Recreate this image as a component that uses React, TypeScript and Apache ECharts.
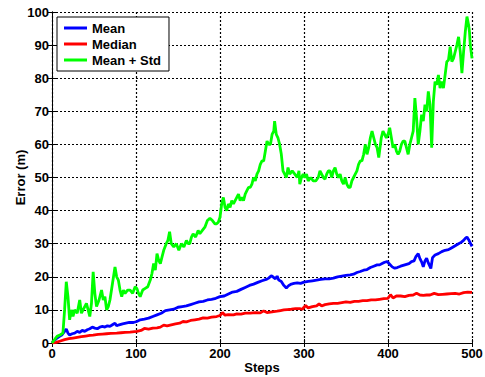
import React, { useEffect, useRef } from "react";
import * as echarts from "echarts";

const xTicks = [0, 100, 200, 300, 400, 500];
const yTicks = [0, 10, 20, 30, 40, 50, 60, 70, 80, 90, 100];

const seriesNames = ["Mean", "Median", "Mean + Std"];
const seriesColors = ["#0000ff", "#ff0000", "#00ff00"];

const meanSteps = [0, 3, 6, 9, 12, 15, 17, 19, 21, 24, 27, 30, 33, 36, 39, 42, 45, 48, 51, 54, 57, 60, 63, 66, 69, 72, 75, 77, 80, 84, 88, 92, 97, 101, 105, 110, 115, 120, 125, 130, 135, 140, 145, 150, 155, 160, 165, 170, 175, 180, 185, 190, 195, 200, 205, 210, 215, 220, 225, 230, 235, 240, 245, 250, 255, 258, 261, 263, 266, 268, 270, 273, 276, 279, 282, 285, 288, 292, 296, 300, 305, 310, 315, 320, 325, 330, 335, 340, 345, 350, 355, 359, 363, 367, 371, 375, 379, 383, 387, 390, 393, 396, 399, 402, 405, 408, 411, 415, 420, 425, 428, 431, 433, 436, 438, 440, 442, 444, 446, 448, 451, 453, 456, 460, 464, 468, 472, 476, 480, 484, 487, 490, 492, 494, 496, 498, 500];
const meanValues = [0, 0.8, 1.5, 2, 2.5, 3.5, 4.2, 3, 2.4, 2.8, 3, 3.5, 3.2, 3.8, 3.5, 4, 4.3, 4.8, 4.5, 4.3, 4.8, 5, 4.8, 5.2, 5, 5.5, 6, 5.2, 5.5, 5.8, 6, 6.2, 6.2, 6.5, 7, 7.2, 7.5, 8, 8.5, 9, 9.8, 10, 10.2, 10.8, 11, 11.2, 11.6, 12, 12.4, 12.6, 13, 13.2, 13.5, 14, 14.2, 14.8, 15.4, 15.6, 16.2, 16.8, 17.4, 17.8, 18.3, 18.8, 19.2, 19.6, 20.3, 20, 19.4, 20.2, 19, 18.6, 17.4, 16.6, 17.4, 17.8, 18, 18.2, 18, 18.4, 18.6, 18.8, 19, 19.2, 19.4, 19.4, 19.6, 20, 20.2, 20.4, 20.6, 20.8, 21.3, 21.6, 22, 22.2, 22.8, 23.2, 23.6, 23.6, 24, 24.4, 24.6, 23.8, 23, 22.6, 22.8, 23.2, 23.6, 24, 24.6, 24.8, 26, 27, 25.5, 24.5, 23, 24.8, 25.6, 24.2, 22.5, 25.8, 26.6, 27, 27.6, 28, 28.2, 28.8, 29.4, 30, 30.4, 31, 31.6, 32, 31.2, 30.2, 29.2];

const medianSteps = [0, 5, 10, 15, 20, 25, 30, 35, 40, 45, 49, 55, 60, 65, 70, 77, 82, 87, 93, 101, 106, 110, 115, 120, 125, 129, 133, 137, 142, 147, 152, 156, 160, 165, 170, 175, 180, 185, 190, 196, 200, 203, 206, 210, 216, 220, 225, 230, 236, 242, 248, 252, 256, 262, 268, 272, 276, 280, 285, 290, 295, 298, 300, 302, 305, 310, 315, 318, 321, 325, 330, 335, 340, 345, 350, 355, 360, 365, 370, 375, 380, 385, 390, 395, 400, 403, 406, 410, 415, 420, 425, 430, 434, 438, 442, 446, 450, 455, 460, 465, 470, 475, 480, 485, 490, 495, 500];
const medianValues = [0, 0.2, 0.6, 1, 1.3, 1.5, 1.7, 1.9, 2.1, 2.3, 2.4, 2.6, 2.7, 2.8, 2.9, 3, 3.1, 3.2, 3.3, 3.5, 3.8, 4.4, 4.2, 4.5, 4.6, 4.8, 5.4, 5.2, 5.5, 5.8, 6, 6.5, 6.4, 6.8, 7, 7.2, 7.6, 7.5, 7.8, 8, 8.3, 9.2, 8.4, 8.6, 8.5, 8.8, 8.7, 9, 9, 9.2, 9.1, 9.7, 9.2, 9.4, 9.6, 9.8, 10, 10.1, 10.2, 10.4, 10.4, 10.2, 10.8, 11.3, 10.6, 11, 11.2, 11.8, 11.2, 11.6, 11.8, 12, 12, 12.2, 12.4, 12.3, 12.6, 12.6, 12.8, 12.8, 13, 13, 13.2, 13.4, 13.5, 14.6, 13.6, 14.2, 14.2, 14, 14.4, 14.5, 15, 14.5, 14.4, 14.5, 14.5, 15, 14.6, 14.7, 14.8, 14.9, 15, 14.8, 15.2, 15.4, 15.3];

const stdSteps = [0, 3, 6, 10, 13, 15, 17, 19, 21, 23, 25, 27, 30, 33, 35, 37, 39, 41, 43, 45, 47, 49, 51, 53, 56, 59, 61, 63, 65, 67, 69, 72, 75, 77, 79, 81, 83, 85, 87, 90, 93, 96, 99, 101, 103, 105, 108, 111, 114, 117, 119, 121, 123, 125, 127, 129, 131, 133, 136, 138, 140, 142, 145, 148, 151, 154, 157, 160, 162, 164, 166, 168, 171, 174, 176, 179, 182, 185, 188, 191, 194, 196, 198, 200, 202, 204, 206, 208, 210, 212, 214, 216, 218, 220, 222, 224, 226, 228, 230, 232, 234, 236, 238, 240, 242, 244, 246, 248, 250, 252, 254, 256, 258, 260, 262, 264, 265, 267, 269, 271, 273, 275, 277, 279, 281, 283, 286, 289, 292, 294, 295, 297, 299, 301, 303, 305, 308, 311, 314, 317, 319, 321, 323, 325, 327, 329, 331, 333, 335, 337, 339, 341, 343, 345, 347, 349, 351, 353, 355, 357, 359, 361, 363, 365, 367, 369, 371, 373, 375, 377, 379, 381, 383, 385, 387, 389, 391, 392, 394, 396, 398, 400, 402, 404, 406, 408, 410, 412, 414, 416, 418, 420, 422, 424, 426, 428, 430, 432, 434, 436, 438, 440, 442, 444, 446, 448, 450, 452, 454, 456, 458, 460, 462, 464, 466, 468, 470, 472, 474, 476, 478, 480, 482, 484, 486, 488, 490, 492, 494, 496, 497, 498, 500];
const stdValues = [0, 1, 2, 2.5, 3, 10, 18.5, 14, 7, 10, 8, 10, 9, 13, 9, 10, 11, 12, 10, 8, 12, 21.5, 15, 11, 13, 16, 13, 14, 10, 11, 13, 18, 23, 20, 19, 16, 14, 16, 15, 16, 16, 15, 17, 16.5, 15, 14, 16, 16.5, 17, 19, 21, 24, 22, 27, 25, 24, 26, 28, 30, 31, 33.6, 30, 29, 30, 28, 30, 29, 31, 30, 30, 32, 33, 32, 34, 33, 34, 35, 37, 37.7, 37, 36, 36, 36.5, 38, 42, 44, 41, 40, 42, 41, 43, 42, 43, 44, 45, 43, 44, 43, 45, 46, 47, 47, 48, 50, 49, 51, 52, 54, 55, 55, 58, 61, 60, 60, 63, 64, 67, 63, 62, 60, 57, 52, 51, 50, 53, 51, 52, 51, 50, 52, 48, 50, 51, 50, 51, 49, 50, 49, 49, 50, 52, 51, 50, 49.5, 51, 52, 52, 50, 52, 53, 51, 50, 51, 49, 48, 50, 48, 47, 47, 49, 50, 51, 52, 54, 55, 55, 57, 60, 57, 59, 62, 64, 62, 60, 59, 56, 60, 62, 64, 63, 62, 63, 65, 62, 59, 60, 58, 57, 58, 60, 61, 61, 59, 57, 60, 62, 64, 74, 68, 60, 64, 69, 67, 72, 70, 76, 72, 59, 73, 79, 78, 81, 77, 79, 77, 81, 85, 85.5, 89.5, 85, 86, 88, 90, 92.5, 88, 81.5, 88, 94, 98.6, 96, 94, 90, 86];

const pairs = (xs: number[], ys: number[]) => xs.map((x, i) => [x, ys[i]]);

export default function App() {
  const ref = useRef<HTMLDivElement>(null);
  useEffect(() => {
    if (!ref.current) return;
    const chart = echarts.init(ref.current, null, { renderer: "svg" });
    const font = "'Liberation Sans', Arial, sans-serif";
    const axisLine = { show: true, lineStyle: { color: "#000", width: 1 } };
    const tick = { show: true, inside: true, length: 4, lineStyle: { color: "#000", width: 1 } };
    const split = { show: true, lineStyle: { color: "#000", type: [2, 2], width: 1.2 } };
    const datas = [pairs(meanSteps, meanValues), pairs(medianSteps, medianValues), pairs(stdSteps, stdValues)];
    chart.setOption({
      animation: false,
      backgroundColor: "#fff",
      grid: { left: 52, right: 13, top: 12, bottom: 34, containLabel: false, outerBoundsMode: "none" },
      legend: {
        show: true,
        orient: "vertical",
        left: 57,
        top: 17,
        data: seriesNames,
        icon: "rect",
        itemWidth: 23,
        itemHeight: 3,
        itemGap: 2,
        padding: [4, 8, 4, 7],
        backgroundColor: "#fff",
        borderColor: "#000",
        borderWidth: 1,
        borderRadius: 0,
        textStyle: { fontFamily: font, fontWeight: "bold", fontSize: 13, color: "#000", lineHeight: 14 },
      },
      xAxis: [
        {
          type: "value",
          min: 0,
          max: 500,
          interval: 100,
          name: "Steps",
          nameLocation: "middle",
          nameGap: 18,
          nameMoveOverlap: false,
          nameTextStyle: { fontFamily: font, fontWeight: "bold", fontSize: 13, color: "#000" },
          axisLine,
          axisTick: tick,
          splitLine: split,
          axisLabel: { fontFamily: font, fontWeight: "bold", fontSize: 13, color: "#000", margin: 4, formatter: (v: number) => (xTicks.includes(v) ? String(v) : "") },
        },
        {
          type: "value",
          position: "top",
          min: 0,
          max: 500,
          interval: 100,
          axisLine,
          axisTick: tick,
          splitLine: { show: false },
          axisLabel: { show: false },
        },
      ],
      yAxis: [
        {
          type: "value",
          min: 0,
          max: 100,
          interval: 10,
          name: "Error (m)",
          nameLocation: "middle",
          nameGap: 25,
          nameMoveOverlap: false,
          nameTextStyle: { fontFamily: font, fontWeight: "bold", fontSize: 13, color: "#000" },
          axisLine,
          axisTick: tick,
          splitLine: split,
          axisLabel: { fontFamily: font, fontWeight: "bold", fontSize: 13, color: "#000", margin: 3, formatter: (v: number) => (yTicks.includes(v) ? String(v) : "") },
        },
        {
          type: "value",
          position: "right",
          min: 0,
          max: 100,
          interval: 10,
          axisLine,
          axisTick: tick,
          splitLine: { show: false },
          axisLabel: { show: false },
        },
      ],
      series: seriesNames.map((name, i) => ({
        name,
        type: "line",
        data: datas[i],
        showSymbol: false,
        symbol: "none",
        color: seriesColors[i],
        lineStyle: { color: seriesColors[i], width: 2.8 },
        z: 3 + i,
      })),
    });
    return () => chart.dispose();
  }, []);
  return <div ref={ref} style={{ position: "fixed", left: 0, top: 0, width: 485, height: 377 }} />;
}
